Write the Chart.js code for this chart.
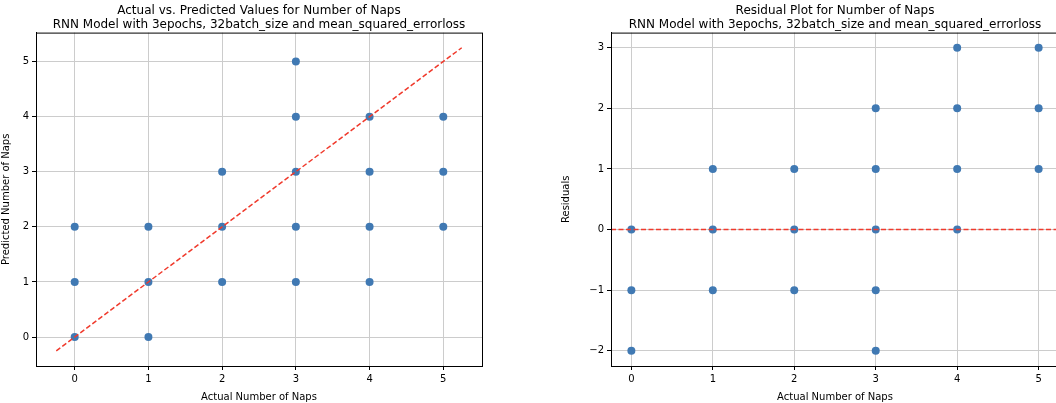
<!DOCTYPE html>
<html>
<head>
<meta charset="utf-8">
<script src="https://cdn.jsdelivr.net/npm/chart.js@4/dist/chart.umd.min.js"></script>
<style>
    html, body { margin: 0; padding: 0; background: #fff; overflow: hidden; width: 1056px; height: 403px; }
    .box { position: absolute; top: 0; height: 403px; }
    #left { left: 0; width: 518px; }
    #right { left: 560px; width: 550px; }
</style>
</head>
<body>
<div class="box" id="left"><canvas id="c1"></canvas></div>
<div class="box" id="right"><canvas id="c2"></canvas></div>
<script>
// actual vs predicted values
const actual    = [0, 0, 0, 1, 1, 1, 2, 2, 2, 3, 3, 3, 3, 3, 4, 4, 4, 4, 5, 5, 5];
const predicted = [0, 1, 2, 0, 1, 2, 1, 2, 3, 1, 2, 3, 4, 5, 1, 2, 3, 4, 2, 3, 4];
const residuals = [0, -1, -2, 1, 0, -1, 1, 0, -1, 2, 1, 0, -1, -2, 3, 2, 1, 0, 3, 2, 1];

// reference lines
const idealLineX = [-0.25, 5.25];
const idealLineY = [-0.25, 5.25];
const zeroLineX = [-0.25, 5.25];
const zeroLineY = [0, 0];

const title1 = ['Actual vs. Predicted Values for Number of Naps', 'RNN Model with 3epochs, 32batch_size and mean_squared_errorloss'];
const title2 = ['Residual Plot for Number of Naps', 'RNN Model with 3epochs, 32batch_size and mean_squared_errorloss'];

const font = 'DejaVu Sans';
const dotColor = '#4079b3';
const lineColor = '#f03a2c';
const gridColor = '#cccccc';

const toPoints = (xs, ys) => xs.map((x, i) => ({ x: x, y: ys[i] }));
const minusFmt = (v) => v < 0 ? '\u2212' + Math.abs(v) : String(v);

// frame around the plot area (like matplotlib spines)
const framePlugin = {
    id: 'frame',
    afterDraw(chart) {
        const a = chart.chartArea;
        const ctx = chart.ctx;
        ctx.save();
        ctx.strokeStyle = '#000';
        ctx.lineWidth = 1;
        ctx.strokeRect(a.left + 0.5, a.top + 0.5, a.right - a.left, a.bottom - a.top);
        ctx.restore();
    }
};

function makeChart(id, cfg) {
    return new Chart(document.getElementById(id), {
        type: 'scatter',
        data: {
            datasets: [
                {
                    data: cfg.points,
                    backgroundColor: dotColor,
                    borderColor: dotColor,
                    borderWidth: 0,
                    pointRadius: 4,
                    pointHoverRadius: 4,
                    order: 2
                },
                {
                    data: cfg.line,
                    showLine: true,
                    borderColor: lineColor,
                    borderWidth: 1.5,
                    borderDash: [5, 2.5],
                    pointRadius: 0,
                    order: 1
                }
            ]
        },
        options: {
            responsive: true,
            maintainAspectRatio: false,
            animation: false,
            layout: { padding: { left: 0, right: cfg.padRight, top: 0, bottom: 0 } },
            plugins: {
                legend: { display: false },
                tooltip: { enabled: false },
                title: {
                    display: true,
                    fullSize: false,
                    text: cfg.title,
                    color: '#000',
                    font: { family: font, size: 12, weight: 'normal', lineHeight: 1.15 },
                    padding: { top: 4, bottom: 1 }
                }
            },
            scales: {
                x: {
                    type: 'linear',
                    min: cfg.xMin,
                    max: cfg.xMax,
                    afterBuildTicks: (s) => { s.ticks = [0, 1, 2, 3, 4, 5].map(v => ({ value: v })); },
                    grid: { color: gridColor, tickColor: '#000', tickLength: 4, drawTicks: true },
                    border: { color: '#000' },
                    ticks: { color: '#000', font: { family: font, size: 10 }, padding: 3 },
                    title: { display: true, text: 'Actual Number of Naps', color: '#000', font: { family: font, size: 10 }, padding: { top: 2, bottom: 0 } },
                    afterFit: (s) => { s.height = 37; }
                },
                y: {
                    type: 'linear',
                    min: cfg.yMin,
                    max: cfg.yMax,
                    afterBuildTicks: (s) => { s.ticks = cfg.yTicks.map(v => ({ value: v })); },
                    grid: { color: gridColor, tickColor: '#000', tickLength: 4, drawTicks: true },
                    border: { color: '#000' },
                    ticks: { color: '#000', font: { family: font, size: 10 }, padding: 3, callback: minusFmt },
                    title: { display: true, text: cfg.yTitle, color: '#000', font: { family: font, size: 10 }, padding: { top: 0, bottom: 2 } },
                    afterFit: (s) => { s.width = cfg.yWidth; }
                }
            }
        },
        plugins: [framePlugin]
    });
}

makeChart('c1', {
    points: toPoints(actual, predicted),
    line: toPoints(idealLineX, idealLineY),
    title: title1,
    xMin: -0.525, xMax: 5.525,
    yMin: -0.525, yMax: 5.525,
    yTicks: [0, 1, 2, 3, 4, 5],
    yTitle: 'Predicted Number of Naps',
    yWidth: 36,
    padRight: 36
});

makeChart('c2', {
    points: toPoints(actual, residuals),
    line: toPoints(zeroLineX, zeroLineY),
    title: title2,
    xMin: -0.25, xMax: 5.25,
    yMin: -2.25, yMax: 3.25,
    yTicks: [-2, -1, 0, 1, 2, 3],
    yTitle: 'Residuals',
    yWidth: 51,
    padRight: 51
});
</script>
</body>
</html>
